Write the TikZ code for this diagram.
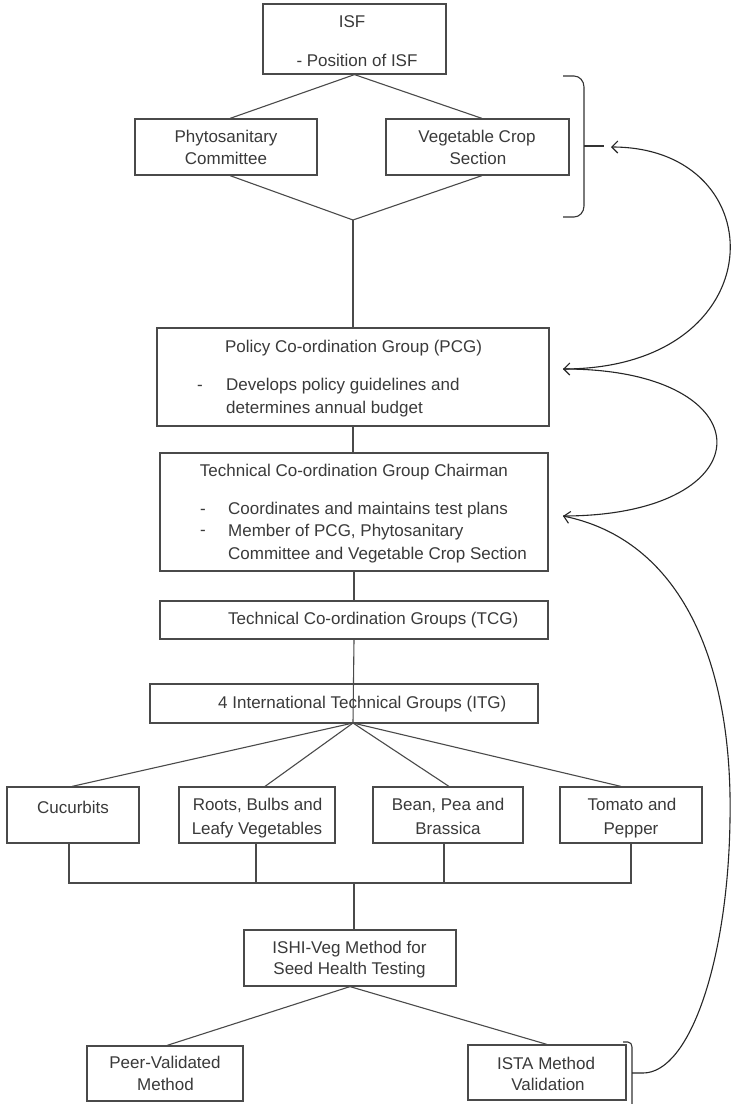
\documentclass[tikz,border=0pt]{standalone}
\usepackage{fontspec}
\setmainfont{Liberation Sans}
\usetikzlibrary{arrows.meta}
\definecolor{ink}{HTML}{3A3A3A}
\definecolor{edge}{HTML}{4A4A4A}
\begin{document}
\begin{tikzpicture}[x=1pt,y=-1pt,
  box/.style={draw=edge, line width=1.2pt, inner sep=0pt, minimum height=56pt},
  lbl/.style={text=ink, inner sep=0pt, font=\fontsize{17}{20}\selectfont, text height=12.2pt, text depth=0pt},
  link/.style={draw=edge, line width=1.1pt},
  brk/.style={draw=black!80, line width=1.1pt},
  arr/.style={draw=black!85, line width=1.1pt, -{Straight Barb[length=6pt,width=12pt,line width=1.1pt]}}]
\useasboundingbox[fill=white] (0,0) rectangle (731,1104);

% ---------- boxes ----------
\node[box, minimum width=183pt, minimum height=70pt] (isf) at (354.5,39) {};
\node[box, minimum width=182pt] (phyto) at (226,147) {};
\node[box, minimum width=183pt] (vcs) at (477.5,147) {};
\node[box, minimum width=392pt, minimum height=98pt] (pcg) at (353,377) {};
\node[box, minimum width=388pt, minimum height=118pt] (tcgc) at (354,512) {};
\node[box, minimum width=388pt, minimum height=38pt] (tcg) at (354,620) {};
\node[box, minimum width=388pt, minimum height=39pt] (itg) at (344,703.5) {};
\node[box, minimum width=132pt] (cuc) at (73,815) {};
\node[box, minimum width=156pt] (roots) at (257,815) {};
\node[box, minimum width=150pt] (bean) at (448,815) {};
\node[box, minimum width=142pt] (tom) at (631,815) {};
\node[box, minimum width=212pt] (ishi) at (350,958) {};
\node[box, minimum width=156pt, minimum height=55pt] (peer) at (165,1073.5) {};
\node[box, minimum width=158pt, minimum height=55pt] (ista) at (547,1072.5) {};

% ---------- texts ----------
\node[lbl] (tisfa) at (352,21.5) {ISF};
\node[lbl] (tisfb) at (357,60) {- Position of ISF};
\node[lbl] (tphya) at (226,136) {Phytosanitary};
\node[lbl] (tphyb) at (226,158) {Committee};
\node[lbl] (tvcsa) at (477,136) {Vegetable Crop};
\node[lbl] (tvcsb) at (478,158) {Section};
\node[lbl] (tpcga) at (353.5,346) {Policy Co-ordination Group (PCG)};
\node[lbl] (dpcg) at (200,384) {-};
\node[lbl, anchor=west] (tpcgb) at (226,384) {Develops policy guidelines and};
\node[lbl, anchor=west] (tpcgc) at (226,407) {determines annual budget};
\node[lbl] (ttca) at (354,470) {Technical Co-ordination Group Chairman};
\node[lbl] (dtca) at (203,508) {-};
\node[lbl] (dtcb) at (203,529) {-};
\node[lbl, anchor=west] (ttcb) at (228,508) {Coordinates and maintains test plans};
\node[lbl, anchor=west] (ttcc) at (228,530) {Member of PCG, Phytosanitary};
\node[lbl, anchor=west] (ttcd) at (228,553) {Committee and Vegetable Crop Section};
\node[lbl, anchor=west] (ttcg) at (228,618) {Technical Co-ordination Groups (TCG)};
\node[lbl, anchor=west] (titg) at (218,702) {4 International Technical Groups (ITG)};
\node[lbl] (tcuc) at (73,807) {Cucurbits};
\node[lbl] (trta) at (257.5,804) {Roots, Bulbs and};
\node[lbl] (trtb) at (257,828) {Leafy Vegetables};
\node[lbl] (tbna) at (448,804) {Bean, Pea and};
\node[lbl] (tbnb) at (448,828) {Brassica};
\node[lbl] (ttma) at (632,804) {Tomato and};
\node[lbl] (ttmb) at (631,828) {Pepper};
\node[lbl] (tisha) at (349.5,947) {ISHI-Veg Method for};
\node[lbl] (tishb) at (349.5,968) {Seed Health Testing};
\node[lbl] (tpra) at (165,1062) {Peer-Validated};
\node[lbl] (tprb) at (165.5,1084) {Method};
\node[lbl] (tsta) at (546,1063) {ISTA Method};
\node[lbl] (tstb) at (548,1084) {Validation};

% ---------- connectors ----------
\coordinate (join) at (353,220);
\coordinate (fan) at (353,723);
\coordinate (bar) at (354,883);
\draw[link] (isf.south) -- ([xshift=4pt]phyto.north);
\draw[link] (isf.south) -- ([xshift=4.5pt]vcs.north);
\draw[link] ([xshift=4pt]phyto.south) -- (join);
\draw[link] ([xshift=4.5pt]vcs.south) -- (join);
\draw[link] (join) -- (pcg.north);
\draw[link] (pcg.south) -- (pcg.south |- tcgc.north);
\draw[link] (tcgc.south) -- (tcg.north);
\draw[link] (tcg.south) -- (fan);
\draw[link] (fan) -- ([xshift=-1pt]cuc.north);
\draw[link] (fan) -- ([xshift=8pt]roots.north);
\draw[link] (fan) -- ([xshift=1pt]bean.north);
\draw[link] (fan) -- ([xshift=-10pt]tom.north);
\draw[link] ([xshift=-4pt]cuc.south) -- ([xshift=-4pt]cuc.south |- bar) -- (tom.south |- bar) -- (tom.south);
\draw[link] ([xshift=-1pt]roots.south) -- ([xshift=-1pt]roots.south |- bar);
\draw[link] ([xshift=-4pt]bean.south) -- ([xshift=-4pt]bean.south |- bar);
\draw[link] (bar) -- (bar |- ishi.north);
\draw[link] (ishi.south) -- ([xshift=2pt]peer.north);
\draw[link] (ishi.south) -- (ista.north);

% ---------- brackets ----------
\draw[brk] (563,76) -- (574,76) to[out=0,in=90] (584,87) -- (584,206) to[out=-90,in=0] (574,217) -- (563,217);
\draw[brk] (584,146) -- (604,146);
\draw[brk] (623,1042) -- (628,1042) to[out=0,in=90] (632,1047) -- (632,1106);

% ---------- feedback arrows ----------
\coordinate (pcgtip) at (563,369);
\coordinate (tcgctip) at (563,516);
\coordinate (bracetip) at (611,147);
\coordinate (istatip) at (632,1073);
\draw[arr] (pcgtip) .. controls (777,369) and (777,147) .. (bracetip);
\draw[arr] (tcgctip) .. controls (768,516) and (768,369) .. (pcgtip);
\draw[arr] (istatip) -- (643,1073) .. controls (690,1073) and (728,960) .. (730,820) .. controls (733,660) and (680,540) .. (tcgctip);
\end{tikzpicture}
\end{document}
